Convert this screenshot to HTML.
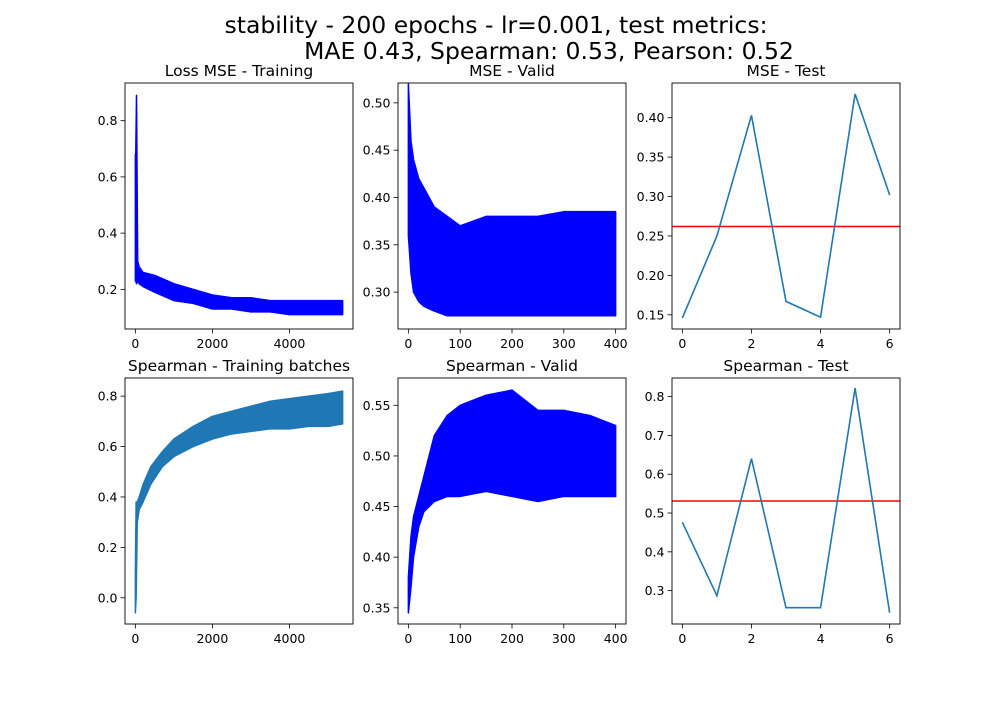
<!DOCTYPE html>
<html><head><meta charset="utf-8"><style>
body{margin:0;background:#fff}
svg text{font-family:"DejaVu Sans","Liberation Sans",sans-serif;fill:#000}
</style></head><body>
<svg id="fig" width="1000" height="700" xmlns="http://www.w3.org/2000/svg">
<rect width="1000" height="700" fill="#fff"/>
<text x="496" y="33" font-size="23.5" text-anchor="middle">stability - 200 epochs - lr=0.001,  test metrics:</text>
<text x="549" y="59" font-size="23.5" text-anchor="middle">MAE 0.43, Spearman: 0.53, Pearson: 0.52</text>
</svg>
<script>
// ---- data ----
const lossX=[0,10,30,60,100,200,500,1000,1500,2000,2500,3000,3500,4000,4500,5000,5380];
const lossUpper=[0.68,0.68,0.89,0.30,0.28,0.26,0.25,0.22,0.20,0.18,0.17,0.17,0.16,0.16,0.16,0.16,0.16];
const lossLower=[0.23,0.23,0.22,0.23,0.22,0.21,0.19,0.16,0.15,0.13,0.13,0.12,0.12,0.11,0.11,0.11,0.11];
const mseValX=[0,5,10,20,30,50,75,100,150,200,250,300,350,400];
const mseValUpper=[0.52,0.46,0.44,0.42,0.41,0.39,0.38,0.37,0.38,0.38,0.38,0.385,0.385,0.385];
const mseValLower=[0.36,0.32,0.30,0.29,0.285,0.28,0.275,0.275,0.275,0.275,0.275,0.275,0.275,0.275];
const testEpochs=[0,1,2,3,4,5,6];
const mseTest=[0.146,0.25,0.403,0.167,0.147,0.43,0.302];
const mseTestMean=[0.262];
const spTrX=[0,20,50,100,200,400,700,1000,1500,2000,2500,3000,3500,4000,4500,5000,5380];
const spTrUpper=[0.1,0.38,0.38,0.40,0.45,0.52,0.58,0.63,0.68,0.72,0.74,0.76,0.78,0.79,0.80,0.81,0.82];
const spTrLower=[-0.06,0.0,0.3,0.35,0.38,0.45,0.52,0.56,0.60,0.63,0.65,0.66,0.67,0.67,0.68,0.68,0.69];
const spValX=[0,5,10,20,30,50,75,100,150,200,250,300,350,400];
const spValUpper=[0.38,0.42,0.44,0.46,0.48,0.52,0.54,0.55,0.56,0.565,0.545,0.545,0.54,0.53];
const spValLower=[0.345,0.37,0.40,0.43,0.445,0.455,0.46,0.46,0.465,0.46,0.455,0.46,0.46,0.46];
const spTest=[0.476,0.287,0.64,0.256,0.256,0.822,0.243];
const spTestMean=[0.531];
const bigXTicks=[0,2000,4000];
const valXTicks=[0,100,200,300,400];
const testXTicks=[0,2,4,6];

const svg=document.getElementById('fig');
const NS='http://www.w3.org/2000/svg';
function el(tag,attrs,parent){const e=document.createElementNS(NS,tag);for(const k in attrs)e.setAttribute(k,attrs[k]);(parent||svg).appendChild(e);return e;}

function panel(name,L,T,xmin,xmax,ymin,ymax,title,xticks,yticks,ydec){
  const W=228,H=246;
  const g=el('g',{});
  
  
  const sx=v=>L+(v-xmin)/(xmax-xmin)*W;
  const sy=v=>T+H-(v-ymin)/(ymax-ymin)*H;
  const t=el('text',{x:L+W/2,y:T-7,'font-size':15.5,'text-anchor':'middle'},g);
  t.textContent=title;
  
  
  xticks.forEach(v=>{const x=sx(v);el('line',{x1:x,x2:x,y1:T+H,y2:T+H+4.5,stroke:'#000','stroke-width':0.8},g);
    const tx=el('text',{x:x,y:T+H+19,'font-size':12.5,'text-anchor':'middle'},g);tx.textContent=String(v);
    
    });
  yticks.forEach(v=>{const y=sy(v);el('line',{x1:L-4.5,x2:L,y1:y,y2:y,stroke:'#000','stroke-width':0.8},g);
    const ty=el('text',{x:L-7.5,y:y+4.5,'font-size':12.5,'text-anchor':'end'},g);ty.textContent=v.toFixed(ydec);
    
    });
  const clip=el('clipPath',{id:'c'+name},g);el('rect',{x:L,y:T,width:W,height:H},clip);
  const plot=el('g',{'clip-path':'url(#c'+name+')'},g);
  el('rect',{x:L,y:T,width:W,height:H,fill:'none',stroke:'#000','stroke-width':0.9},g);
  return {sx,sy,plot,L,W};
}
function band(p,xs,up,lo,color,name){
  let pts=xs.map((x,i)=>p.sx(x)+','+p.sy(up[i]));
  for(let i=xs.length-1;i>=0;i--)pts.push(p.sx(xs[i])+','+p.sy(lo[i]));
  const b=el('polygon',{points:pts.join(' '),fill:color,stroke:color,'stroke-width':1.5,'stroke-linejoin':'round'},p.plot);
  
  
}
function line(p,xs,ys,color,name){
  const l=el('polyline',{points:xs.map((x,i)=>p.sx(x)+','+p.sy(ys[i])).join(' '),fill:'none',stroke:color,'stroke-width':1.6},p.plot);
  
  
}
function hline(p,v,name){
  const y=p.sy(v);
  const l=el('line',{x1:p.L,x2:p.L+p.W,y1:y,y2:y,stroke:'#ff0000','stroke-width':1.6},p.plot);
  
  
}
const N=5380,bm=N*0.05;
let p1=panel('loss-mse-training',125,83,-bm,N+bm,0.059,0.934,'Loss MSE - Training',bigXTicks,[0.2,0.4,0.6,0.8],1);
band(p1,lossX,lossUpper,lossLower,'#0000ff','loss-band');
let p2=panel('mse-valid',398,83,-20,420,0.261,0.521,'MSE - Valid',valXTicks,[0.30,0.35,0.40,0.45,0.50],2);
band(p2,mseValX,mseValUpper,mseValLower,'#0000ff','mse-valid-band');
let p3=panel('mse-test',672,83,-0.3,6.3,0.132,0.444,'MSE - Test',testXTicks,[0.15,0.20,0.25,0.30,0.35,0.40],2);
hline(p3,mseTestMean[0],'mse-test-mean-line');
line(p3,testEpochs,mseTest,'#1f77b4','mse-test-line');
let p4=panel('spearman-training',125,378,-bm,N+bm,-0.104,0.872,'Spearman - Training batches',bigXTicks,[0,0.2,0.4,0.6,0.8],1);
band(p4,spTrX,spTrUpper,spTrLower,'#1f77b4','spearman-train-band');
let p5=panel('spearman-valid',398,378,-20,420,0.334,0.577,'Spearman - Valid',valXTicks,[0.35,0.40,0.45,0.50,0.55],2);
band(p5,spValX,spValUpper,spValLower,'#0000ff','spearman-valid-band');
let p6=panel('spearman-test',672,378,-0.3,6.3,0.214,0.848,'Spearman - Test',testXTicks,[0.3,0.4,0.5,0.6,0.7,0.8],1);
hline(p6,spTestMean[0],'spearman-test-mean-line');
line(p6,testEpochs,spTest,'#1f77b4','spearman-test-line');
</script>
</body></html>
